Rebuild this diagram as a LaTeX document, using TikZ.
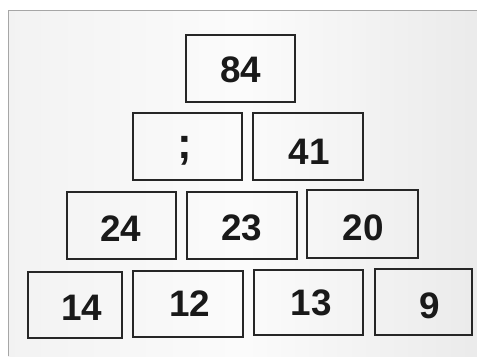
\documentclass[tikz,border=0pt]{standalone}
\usepackage{fontspec}
\setmainfont{Liberation Sans}
\begin{document}
\begin{tikzpicture}[x=1bp,y=-1bp,
  cell/.style={draw=black!85,line width=1.1bp,inner sep=0pt},
  num/.style={inner sep=0pt,font=\fontsize{37}{37}\selectfont\bfseries,text=black!90}]
\useasboundingbox (0,0) rectangle (477,356);
\fill[white] (0,0) rectangle (477,356);
\fill[left color=gray!10,right color=gray!16,middle color=gray!3] (8,10) rectangle (477,356);
\draw[gray!70,line width=0.8bp] (8,356) -- (8,10) -- (477,10);
% boxes
\node[cell,minimum width=109bp,minimum height=67bp] (b84) at (240.5,68.5) {};
\node[cell,minimum width=109bp,minimum height=67bp] (bsc) at (187.5,146.5) {};
\node[cell,minimum width=110bp,minimum height=67bp] (b41) at (308,146.5) {};
\node[cell,minimum width=109bp,minimum height=67bp] (b24) at (121.5,225.5) {};
\node[cell,minimum width=110bp,minimum height=67bp] (b23) at (242,225.5) {};
\node[cell,minimum width=111bp,minimum height=68bp] (b20) at (362.5,224) {};
\node[cell,minimum width=94bp,minimum height=66bp] (b14) at (75,305) {};
\node[cell,minimum width=110bp,minimum height=66bp] (b12) at (188,304) {};
\node[cell,minimum width=109bp,minimum height=65bp] (b13) at (308.5,302.5) {};
\node[cell,minimum width=97bp,minimum height=66bp] (b9) at (423.5,302) {};
% numbers
\node[num] (t84) at (241,70) {84};
\node[num,font=\fontsize{44}{44}\selectfont\bfseries] (tsc) at (185,151) {;};
\node[num] (t41) at (309,152) {41};
\node[num] (t24) at (121,229) {24};
\node[num] (t23) at (242,228) {23};
\node[num] (t20) at (363,228) {20};
\node[num] (t14) at (82,308) {14};
\node[num] (t12) at (190,304) {12};
\node[num] (t13) at (311,303) {13};
\node[num] (t9) at (430,306) {9};
\end{tikzpicture}
\end{document}
